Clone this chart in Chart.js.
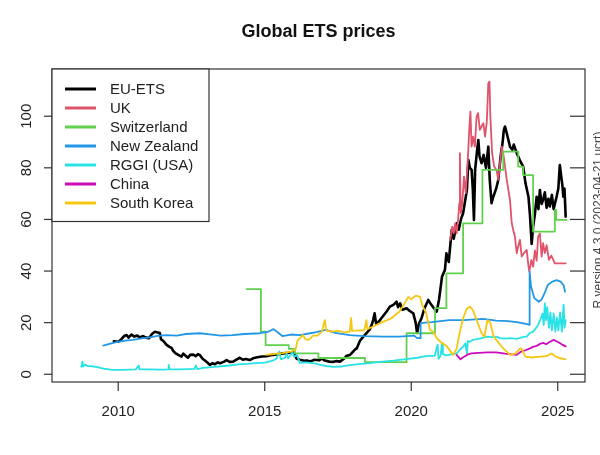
<!DOCTYPE html>
<html>
<head>
<meta charset="utf-8">
<script src="https://cdn.jsdelivr.net/npm/chart.js@4/dist/chart.umd.min.js"></script>
<style>
  html, body { margin: 0; padding: 0; background: #fff; }
  #wrap { width: 600px; height: 455px; }
</style>
</head>
<body>
<div id="wrap"><canvas id="c" width="600" height="455"></canvas></div>
<script>
// ---------------- data ----------------
const chartTitle = "Global ETS prices";
const seriesNames = ["EU-ETS", "UK", "Switzerland", "New Zealand", "RGGI (USA)", "China", "South Korea"];
const seriesColors = ["#000000", "#DF536B", "#61D04F", "#2297E6", "#28E2E5", "#CD0BBC", "#F5C710"];
const xTicks = [2010, 2015, 2020, 2025];
const yTicks = [0, 20, 40, 60, 80, 100];
const footnote = "R version 4.3.0 (2023-04-21 ucrt)";

const euYears = [2009.85,2010.0,2010.1,2010.2,2010.29,2010.35,2010.45,2010.55,2010.65,2010.74,2010.85,2010.95,2011.05,2011.15,2011.25,2011.35,2011.42,2011.46,2011.55,2011.65,2011.75,2011.82,2011.88,2011.95,2012.05,2012.16,2012.22,2012.3,2012.38,2012.45,2012.56,2012.65,2012.72,2012.79,2012.88,2012.95,2013.05,2013.13,2013.22,2013.3,2013.4,2013.47,2013.6,2013.7,2013.8,2013.92,2014.05,2014.15,2014.25,2014.35,2014.49,2014.6,2014.75,2014.9,2015.06,2015.2,2015.35,2015.5,2015.63,2015.8,2015.97,2016.05,2016.09,2016.2,2016.35,2016.43,2016.55,2016.7,2016.85,2016.95,2017.05,2017.2,2017.34,2017.45,2017.57,2017.7,2017.8,2017.91,2018.0,2018.1,2018.14,2018.25,2018.36,2018.48,2018.59,2018.66,2018.7,2018.75,2018.8,2018.9,2019.0,2019.16,2019.27,2019.39,2019.5,2019.55,2019.62,2019.7,2019.84,2019.95,2020.07,2020.15,2020.2,2020.26,2020.35,2020.45,2020.58,2020.68,2020.78,2020.87,2020.95,2021.05,2021.15,2021.2,2021.28,2021.38,2021.45,2021.55,2021.62,2021.7,2021.77,2021.85,2021.9,2021.95,2022.0,2022.06,2022.1,2022.14,2022.18,2022.24,2022.29,2022.33,2022.4,2022.47,2022.55,2022.63,2022.68,2022.74,2022.8,2022.9,2022.97,2023.05,2023.12,2023.16,2023.2,2023.26,2023.37,2023.45,2023.5,2023.6,2023.7,2023.82,2023.9,2024.0,2024.05,2024.11,2024.16,2024.22,2024.28,2024.34,2024.39,2024.45,2024.5,2024.56,2024.62,2024.68,2024.73,2024.8,2024.86,2024.96,2025.02,2025.07,2025.12,2025.16,2025.19,2025.23,2025.27];
const euValues = [12.8,12.6,13.5,14.8,15.2,14.2,15.4,14.6,15.0,14.3,14.8,14.2,14.0,15.6,16.5,16.2,16.0,13.6,12.8,11.4,10.6,10.2,9.0,8.2,7.5,6.8,8.0,7.2,6.4,7.5,7.6,7.0,7.8,7.4,6.0,5.4,4.5,3.6,4.3,3.9,4.6,4.3,4.8,5.5,4.8,4.9,5.8,6.4,5.6,5.9,5.5,6.2,6.6,6.9,7.0,7.4,7.6,7.9,8.1,8.3,8.6,7.0,6.0,5.6,5.2,5.3,5.0,5.6,5.4,6.1,5.3,4.9,4.8,5.1,4.9,6.0,7.2,7.5,8.6,9.8,10.0,13.0,14.5,16.0,17.5,19.5,21.0,23.6,19.6,20.5,22.0,24.3,26.2,26.9,28.1,26.0,27.5,25.0,25.6,24.5,23.6,20.0,16.0,19.5,21.7,25.5,28.8,27.0,25.5,24.3,29.0,37.8,40.5,46.9,43.5,55.9,52.5,58.5,56.0,60.2,62.4,68.0,71.4,83.0,80.0,79.2,72.0,59.8,79.2,86.0,90.8,84.4,81.8,85.0,80.0,88.2,75.3,66.3,68.8,72.0,75.3,84.4,90.0,94.7,96.0,93.4,88.2,87.0,89.0,85.7,83.1,80.5,74.0,68.8,62.0,50.5,57.2,62.0,68.8,64.0,71.4,66.0,67.6,70.5,64.5,68.0,65.0,69.5,64.0,68.8,72.0,81.1,76.6,73.0,68.8,72.0,61.1];

const ukYears = [2021.33,2021.4,2021.45,2021.5,2021.55,2021.6,2021.64,2021.66,2021.69,2021.74,2021.8,2021.86,2021.93,2021.98,2022.02,2022.06,2022.11,2022.17,2022.23,2022.28,2022.34,2022.4,2022.46,2022.52,2022.58,2022.63,2022.67,2022.7,2022.76,2022.83,2022.91,2022.97,2023.03,2023.09,2023.16,2023.26,2023.37,2023.43,2023.5,2023.54,2023.6,2023.66,2023.71,2023.77,2023.85,2023.94,2024.0,2024.03,2024.1,2024.16,2024.22,2024.28,2024.33,2024.39,2024.45,2024.5,2024.56,2024.62,2024.7,2024.78,2024.85,2024.9,2025.27];
const ukValues = [52.1,57.2,54.6,58.5,54.6,60.0,66.3,85.7,62.4,66.0,76.6,70.2,83.1,94.7,101.8,88.2,92.1,88.2,99.8,101.2,94.7,96.0,97.3,92.1,98.0,112.8,113.4,99.8,85.7,80.5,79.2,75.3,81.8,88.2,84.0,75.3,67.6,58.5,55.0,53.3,46.9,50.0,52.1,45.6,47.0,48.2,42.0,39.8,44.3,41.7,48.0,44.0,53.3,54.6,45.6,50.8,47.0,50.0,44.3,46.0,44.3,43.0,43.0];

// Switzerland: step series (value holds until the next date)
const chYears = [2014.38,2014.87,2015.03,2015.82,2016.03,2016.83,2018.42,2019.84,2020.81,2021.2,2021.77,2022.43,2023.14,2023.65,2023.82,2024.16,2024.9,2024.95,2025.3];
const chValues = [33.0,16.5,11.3,9.8,8.1,6.3,4.7,15.9,25.6,39.1,58.5,79.2,86.3,80.5,77.2,55.3,63.7,59.8,59.8];

const nzYears = [2009.49,2009.7,2010.0,2010.25,2010.5,2010.8,2011.08,2011.35,2011.65,2012.0,2012.3,2012.79,2013.2,2013.5,2013.9,2014.3,2014.84,2015.1,2015.3,2015.45,2015.6,2015.9,2016.2,2016.5,2016.77,2017.0,2017.1,2017.4,2017.9,2018.4,2019.05,2019.6,2020.1,2020.2,2020.3,2020.32,2020.7,2021.3,2021.8,2022.45,2022.9,2023.3,2023.6,2024.0,2024.03,2024.04,2024.09,2024.2,2024.35,2024.45,2024.55,2024.66,2024.8,2024.96,2025.1,2025.2,2025.25];
const nzValues = [11.1,11.8,12.6,13.0,13.3,13.9,14.3,14.9,15.2,15.0,15.6,15.9,15.4,15.0,15.2,15.6,15.9,16.4,17.5,16.2,14.8,15.4,15.2,15.8,16.3,17.0,17.2,16.0,15.2,14.8,14.6,14.6,15.0,14.0,14.0,19.8,20.2,21.0,21.0,21.5,20.8,20.6,20.2,19.3,19.1,39.8,34.0,29.5,28.1,29.0,31.4,34.6,35.8,36.5,35.9,34.5,32.0];

const rggiYears = [2008.74,2008.78,2008.8,2008.88,2008.95,2009.1,2009.3,2009.5,2009.8,2010.1,2010.4,2010.6,2010.7,2010.72,2011.0,2011.5,2011.7,2011.72,2011.75,2012.1,2012.4,2012.6,2012.65,2012.7,2012.9,2013.2,2013.5,2013.8,2014.1,2014.4,2014.7,2015.0,2015.3,2015.4,2015.5,2015.55,2015.7,2015.75,2015.8,2015.95,2016.0,2016.1,2016.2,2016.4,2016.7,2016.9,2017.1,2017.34,2017.6,2017.9,2018.2,2018.5,2018.8,2019.1,2019.4,2019.6,2019.9,2020.2,2020.5,2020.8,2020.9,2020.93,2021.0,2021.05,2021.08,2021.2,2021.4,2021.55,2021.7,2021.77,2021.85,2021.9,2021.93,2022.0,2022.1,2022.25,2022.4,2022.57,2022.75,2022.9,2023.03,2023.2,2023.37,2023.6,2023.8,2023.94,2024.05,2024.16,2024.3,2024.4,2024.48,2024.52,2024.56,2024.6,2024.64,2024.7,2024.75,2024.8,2024.86,2024.92,2024.97,2025.02,2025.08,2025.14,2025.2,2025.23,2025.27];
const rggiValues = [2.9,4.9,3.0,3.8,3.2,3.1,2.8,2.2,1.7,1.7,1.8,1.9,3.4,1.9,1.9,1.8,1.9,3.6,1.9,1.9,2.0,2.1,3.4,2.0,2.5,2.8,3.1,3.4,3.8,4.0,4.3,4.5,5.4,6.0,8.8,5.8,6.5,8.0,6.2,8.5,6.8,7.5,4.4,4.6,4.2,3.6,3.2,2.9,3.0,3.5,3.9,4.2,4.6,5.0,5.3,5.6,6.0,6.4,7.0,7.2,11.5,6.0,7.2,12.0,7.8,7.3,7.8,8.1,10.0,10.7,12.0,8.0,12.8,12.6,13.3,13.6,14.0,14.6,14.4,14.6,14.0,13.8,14.0,13.7,14.4,14.6,16.0,16.5,18.5,21.0,23.5,19.0,27.5,21.0,26.0,18.0,24.0,17.0,23.5,16.5,22.0,17.0,24.0,16.5,27.0,18.0,21.0];

const cnYears = [2021.55,2021.6,2021.68,2021.75,2021.9,2022.05,2022.3,2022.6,2022.9,2023.2,2023.5,2023.6,2023.75,2023.9,2024.05,2024.15,2024.28,2024.4,2024.5,2024.6,2024.72,2024.85,2024.92,2025.05,2025.15,2025.27];
const cnValues = [7.5,6.8,5.8,6.4,7.5,8.1,8.3,8.5,8.5,8.0,7.6,7.5,8.8,9.3,10.0,10.6,11.0,11.8,12.2,11.6,12.5,13.3,13.0,12.2,11.5,10.8];

const krYears = [2015.06,2015.3,2015.6,2015.9,2016.05,2016.12,2016.2,2016.3,2016.4,2016.5,2016.65,2016.8,2016.95,2017.05,2017.1,2017.25,2017.5,2017.75,2017.9,2017.95,2017.98,2018.2,2018.4,2018.47,2018.5,2018.7,2019.05,2019.3,2019.6,2019.75,2019.9,2020.0,2020.15,2020.3,2020.37,2020.5,2020.64,2020.75,2020.87,2021.0,2021.2,2021.43,2021.55,2021.65,2021.77,2021.9,2022.0,2022.1,2022.2,2022.4,2022.5,2022.6,2022.7,2022.8,2022.9,2023.14,2023.37,2023.55,2023.7,2023.76,2023.9,2024.1,2024.4,2024.6,2024.8,2024.9,2025.05,2025.27];
const krValues = [7.5,7.8,8.2,8.8,9.5,13.0,14.0,15.2,13.5,13.3,15.0,15.0,16.5,21.0,17.0,16.5,16.8,16.2,16.5,21.8,16.8,17.0,17.0,21.0,17.5,18.5,20.4,21.5,24.3,27.0,30.0,29.0,30.5,30.0,26.9,24.0,17.2,16.5,14.0,12.5,11.0,7.5,10.0,16.0,21.7,25.5,26.2,25.0,22.0,15.9,14.6,21.0,20.0,15.0,13.3,10.0,7.5,8.0,9.8,10.0,6.8,6.5,6.8,7.0,8.1,7.0,6.3,5.8];

// ---------------- build ----------------
const FONT = '"Liberation Sans", Arial, Helvetica, sans-serif';
const AXIS = '#333333';
function pts(xs, ys) { return xs.map((x, i) => ({ x: x, y: ys[i] })); }
const seriesData = [
  pts(euYears, euValues), pts(ukYears, ukValues), pts(chYears, chValues),
  pts(nzYears, nzValues), pts(rggiYears, rggiValues), pts(cnYears, cnValues), pts(krYears, krValues)
];
const widths = [2.6, 1.8, 1.8, 1.8, 1.8, 1.8, 1.8];
const stepped = [false, false, true, false, false, false, false];
const datasets = seriesNames.map((n, i) => ({
  label: n, data: seriesData[i], borderColor: seriesColors[i], backgroundColor: seriesColors[i],
  borderWidth: widths[i], stepped: stepped[i], pointRadius: 0, tension: 0, fill: false,
  order: seriesNames.length - i
}));

const framePlugin = {
  id: 'frame',
  beforeDraw(chart) {
    const c = chart.ctx; c.save(); c.fillStyle = '#ffffff'; c.fillRect(0, 0, chart.width, chart.height); c.restore();
  },
  afterDraw(chart) {
    const c = chart.ctx, a = chart.chartArea, xs = chart.scales.x, ys = chart.scales.y;
    c.save();
    c.strokeStyle = AXIS; c.lineWidth = 1.2; c.fillStyle = '#222';
    c.strokeRect(a.left, a.top, a.right - a.left, a.bottom - a.top);
    c.font = '15px ' + FONT; c.textAlign = 'center'; c.textBaseline = 'middle';
    xTicks.forEach(t => {
      const px = xs.getPixelForValue(t);
      c.beginPath(); c.moveTo(px, a.bottom); c.lineTo(px, a.bottom + 9); c.stroke();
      c.fillText(String(t), px, a.bottom + 30);
    });
    yTicks.forEach(v => {
      const py = ys.getPixelForValue(v);
      c.beginPath(); c.moveTo(a.left - 8, py); c.lineTo(a.left, py); c.stroke();
      c.beginPath(); c.moveTo(a.right - 15, py); c.lineTo(a.right, py); c.stroke();
      c.save(); c.translate(27, py); c.rotate(-Math.PI / 2);
      c.fillText(String(v), 0, 0); c.restore();
    });
    c.font = 'bold 18px ' + FONT; c.fillStyle = '#111';
    c.fillText(chartTitle, (a.left + a.right) / 2, 32);
    const lx = a.left, ly = a.top, lw = 157, lh = 152.5;
    c.fillStyle = '#ffffff'; c.fillRect(lx, ly, lw, lh);
    c.strokeRect(lx, ly, lw, lh);
    c.font = '15px ' + FONT; c.textAlign = 'left';
    seriesNames.forEach((n, i) => {
      const yy = ly + 20 + i * 19;
      c.strokeStyle = seriesColors[i]; c.lineWidth = 3;
      c.beginPath(); c.moveTo(lx + 13, yy); c.lineTo(lx + 44, yy); c.stroke();
      c.fillStyle = '#222'; c.fillText(n, lx + 58, yy + 0.5);
    });
    c.save(); c.translate(599, 220); c.rotate(-Math.PI / 2);
    c.font = '12px ' + FONT; c.fillStyle = '#444'; c.textAlign = 'center';
    c.fillText(footnote, 0, 0); c.restore();
    c.restore();
  }
};

new Chart(document.getElementById('c'), {
  type: 'line',
  data: { datasets: datasets },
  options: {
    responsive: false, animation: false, parsing: true,
    layout: { padding: { left: 52, right: 15, top: 69, bottom: 73 } },
    plugins: { legend: { display: false }, title: { display: false }, tooltip: { enabled: false } },
    scales: {
      x: { type: 'linear', min: 2007.74, max: 2025.93, display: false },
      y: { type: 'linear', min: -3.0, max: 118.3, display: false }
    },
    elements: { point: { radius: 0 }, line: { tension: 0, borderJoinStyle: 'round', borderCapStyle: 'round' } }
  },
  plugins: [framePlugin]
});
</script>
</body>
</html>
